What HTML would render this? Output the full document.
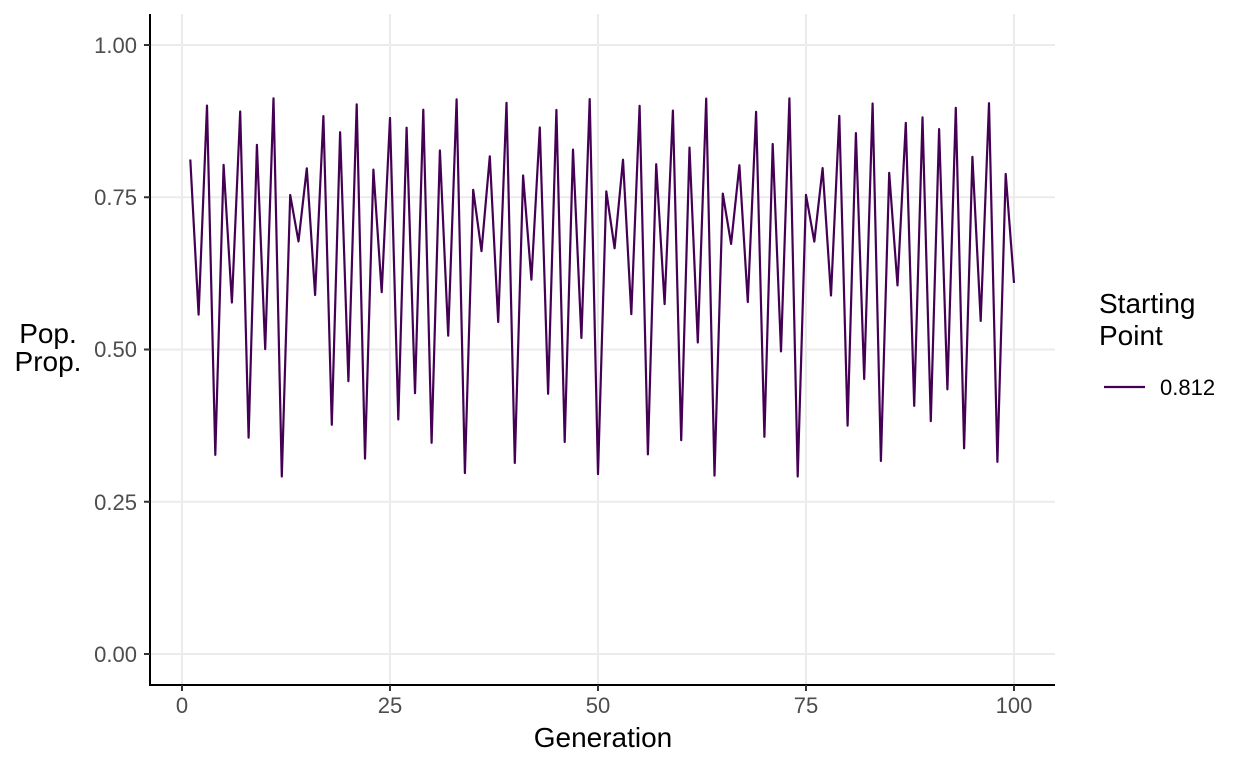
<!DOCTYPE html>
<html><head><meta charset="utf-8"><style>
body{margin:0;background:#fff;}
svg{display:block;font-family:"Liberation Sans",sans-serif;}
</style></head><body>
<svg id="s" width="1248" height="768" xmlns="http://www.w3.org/2000/svg">
<g stroke="#ebebeb" stroke-width="2">
<line x1="150" x2="1055" y1="654" y2="654"/><line x1="150" x2="1055" y1="501.75" y2="501.75"/>
<line x1="150" x2="1055" y1="349.5" y2="349.5"/><line x1="150" x2="1055" y1="197.25" y2="197.25"/>
<line x1="150" x2="1055" y1="45" y2="45"/>
<line x1="182" x2="182" y1="14" y2="685"/><line x1="390" x2="390" y1="14" y2="685"/>
<line x1="598" x2="598" y1="14" y2="685"/><line x1="806" x2="806" y1="14" y2="685"/>
<line x1="1014" x2="1014" y1="14" y2="685"/>
</g>
<polyline id="p" fill="none" stroke="#440154" stroke-width="2.2" stroke-linejoin="round"/>
<g stroke="#000" stroke-width="2"><line x1="150" x2="150" y1="14" y2="686"/><line x1="149" x2="1055" y1="685" y2="685"/></g>
<g stroke="#333" stroke-width="2">
<line x1="144" x2="150" y1="654" y2="654"/><line x1="144" x2="150" y1="501.75" y2="501.75"/>
<line x1="144" x2="150" y1="349.5" y2="349.5"/><line x1="144" x2="150" y1="197.25" y2="197.25"/>
<line x1="144" x2="150" y1="45" y2="45"/>
<line x1="182" x2="182" y1="685" y2="691"/><line x1="390" x2="390" y1="685" y2="691"/>
<line x1="598" x2="598" y1="685" y2="691"/><line x1="806" x2="806" y1="685" y2="691"/>
<line x1="1014" x2="1014" y1="685" y2="691"/>
</g>
<g font-size="22" fill="#4d4d4d" text-anchor="end">
<text x="137" y="662">0.00</text><text x="137" y="510">0.25</text><text x="137" y="357">0.50</text>
<text x="137" y="205">0.75</text><text x="137" y="53">1.00</text>
</g>
<g font-size="22" fill="#4d4d4d" text-anchor="middle">
<text x="182" y="713">0</text><text x="390" y="713">25</text><text x="598" y="713">50</text>
<text x="806" y="713">75</text><text x="1014" y="713">100</text>
</g>
<text x="603" y="747" font-size="28" text-anchor="middle">Generation</text>
<text x="48" y="343" font-size="28" text-anchor="middle">Pop.</text>
<text x="48" y="371" font-size="28" text-anchor="middle">Prop.</text>
<text x="1099" y="313" font-size="28">Starting</text>
<text x="1099" y="345" font-size="28">Point</text>
<line x1="1104" x2="1145" y1="387" y2="387" stroke="#440154" stroke-width="2.2"/>
<text x="1160" y="395" font-size="22">0.812</text>
</svg>
<script>
var x=0.812,r=3.65,pts=[];
for(var g=1;g<=100;g++){pts.push((182+8.32*g).toFixed(1)+","+(654-609*x).toFixed(1));x=r*x*(1-x);}
document.getElementById("p").setAttribute("points",pts.join(" "));
</script>
</body></html>
